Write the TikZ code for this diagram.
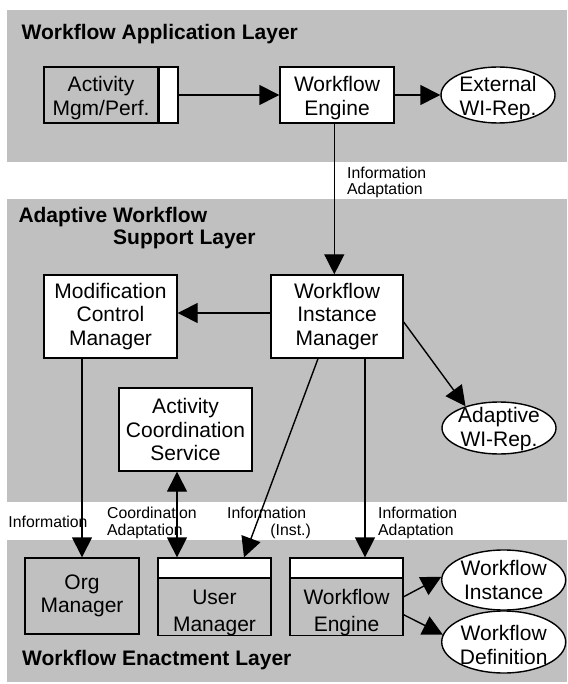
\documentclass[tikz,border=0pt]{standalone}
\usepackage{fontspec}
\setmainfont{Liberation Sans}
\usetikzlibrary{arrows.meta,shapes.geometric}
\definecolor{bandgray}{RGB}{192,192,192}
\newcommand{\myboxfont}{\fontsize{21}{23.5}\selectfont}
\newcommand{\mylowfont}{\fontsize{21}{26.5}\selectfont}
\newcommand{\mylblfont}{\fontsize{15.8}{17.5}\selectfont}
\newcommand{\myttlfont}{\fontsize{21}{25}\selectfont\bfseries}
\begin{document}
\begin{tikzpicture}[x=1pt,y=-1pt,
  band/.style={fill=bandgray,draw=none},
  box/.style={draw,line width=1.4pt,fill=white,inner sep=0pt,align=center,font=\myboxfont},
  graybox/.style={box,fill=bandgray},
  oval/.style={ellipse,draw,line width=1.4pt,fill=white,inner sep=0pt},
  otext/.style={inner sep=0pt,align=center,font=\myboxfont},
  arr/.style={line width=1.4pt,-{Triangle[length=20pt,width=20pt]}},
  darr/.style={line width=1.4pt,{Triangle[length=20pt,width=20pt]}-{Triangle[length=20pt,width=20pt]}},
  lbl/.style={inner sep=0pt,font=\mylblfont},
  ttl/.style={inner sep=0pt,anchor=base west,font=\myttlfont}]
\useasboundingbox (0,0) rectangle (567,684);
% layer bands
\fill[band] (6.5,10) rectangle (567,162);
\fill[band] (6.5,199) rectangle (567,502);
\fill[band] (6.5,540) rectangle (567,682);
% titles
\node[ttl] (t1) at (21.5,40) {Workflow Application Layer};
\node[ttl] (t2) at (18.3,222.7) {Adaptive Workflow};
\node[ttl] (t3) at (113,245) {Support Layer};
\node[ttl] (t4) at (22,665) {Workflow Enactment Layer};
% application layer
\node[graybox,minimum width=114pt,minimum height=56pt] (act) at (101,95) {\rule{0pt}{21pt}Activity\\Mgm/Perf.};
\node[box,minimum width=18.5pt,minimum height=56pt,anchor=west] (actstrip) at (act.east) {};
\node[box,minimum width=114pt,minimum height=56pt] (we1) at (337,95) {\rule{0pt}{21pt}Workflow\\Engine};
\node[oval,minimum width=114pt,minimum height=56pt] (ext) at (498,95) {};
\node[otext] (extt) at ([yshift=-3pt]ext.center) {External\\WI-Rep.};
% support layer
\node[box,minimum width=132pt,minimum height=83pt] (wim) at (337,316.5) {Workflow\\Instance\\Manager};
\node[box,minimum width=133pt,minimum height=83pt] (mcm) at (110.5,316.5) {Modification\\Control\\Manager};
\node[box,minimum width=133pt,minimum height=83pt] (acs) at (185.5,429.5) {Activity\\Coordination\\Service};
\node[oval,minimum width=114pt,minimum height=52pt] (awi) at (499,428) {};
\node[otext] (awit) at ([yshift=-1pt]awi.center) {Adaptive\\WI-Rep.};
% enactment layer
\node[graybox,minimum width=114pt,minimum height=76pt] (org) at (82,596) {Org\\Manager};
\node[box,minimum width=113pt,minimum height=19.3pt] (umhead) at (214.5,567.7) {};
\node[graybox,font=\mylowfont,minimum width=113pt,minimum height=57pt,anchor=north] (um) at (umhead.south) {\rule{0pt}{26pt}User\\Manager};
\node[box,minimum width=113pt,minimum height=19.3pt] (wehead) at (346.5,567.7) {};
\node[graybox,font=\mylowfont,minimum width=113pt,minimum height=57pt,anchor=north] (we2) at (wehead.south) {\rule{0pt}{26pt}Workflow\\Engine};
\node[oval,minimum width=124pt,minimum height=60pt] (wfi) at (503.7,580) {};
\node[otext] (wfit) at (wfi.center) {Workflow\\Instance};
\node[oval,minimum width=124pt,minimum height=62pt] (wfd) at (503.7,642) {};
\node[otext] (wfdt) at ([yshift=-3pt]wfd.center) {Workflow\\Definition};
% connectors
\draw[arr] (actstrip.east) -- (we1.west);
\draw[arr] (we1.east) -- (ext.west);
\draw[arr] ([xshift=-2.7pt]we1.south) -- ([xshift=-2.7pt]wim.north);
\draw[arr] ([yshift=3.5pt]wim.west) -- ([yshift=3.5pt]mcm.east);
\draw[arr] ([yshift=-5.5pt]wim.east) -- (awi.147);
\draw[arr] ([xshift=-19pt]wim.south) -- ([xshift=29.5pt]umhead.north);
\draw[arr] ([xshift=28pt]wim.south) -- ([xshift=28pt]wim.south |- wehead.north);
\draw[arr] (mcm.south -| org.north) -- (org.north);
\draw[darr] ([xshift=-8.5pt]acs.south) -- ([xshift=-8.5pt]acs.south |- umhead.north);
\draw[arr] ([yshift=10.5pt]we2.east) -- (wfi.177);
\draw[arr] ([yshift=-7.5pt]we2.east) -- (wfd.173);
% connector labels
\node[lbl,anchor=base west] (la1) at (347,178.3) {Information};
\node[lbl,anchor=base west] (la2) at (347,195) {Adaptation};
\node[lbl,anchor=base west] (lb1) at (8.3,527) {Information};
\node[lbl,anchor=base west] (lc1) at (107,518) {Coordination};
\node[lbl,anchor=base west] (lc2) at (107,535.5) {Adaptation};
\node[lbl,anchor=base west] (ld1) at (227,518) {Information};
\node[lbl,anchor=base east] (ld2) at (311,535.5) {(Inst.)};
\node[lbl,anchor=base west] (le1) at (378,518) {Information};
\node[lbl,anchor=base west] (le2) at (378,535.5) {Adaptation};
\end{tikzpicture}
\end{document}
